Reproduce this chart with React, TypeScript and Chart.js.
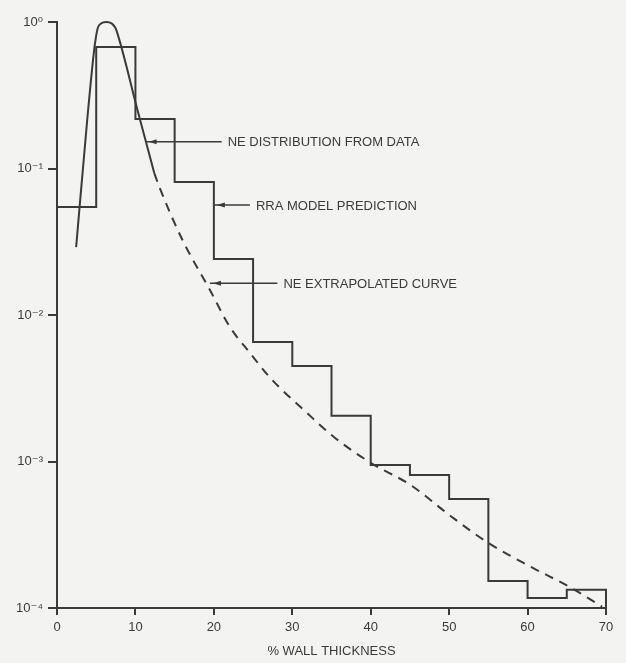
import React, { useEffect, useRef } from 'react';
import { Chart, registerables } from 'chart.js';

Chart.register(...registerables);

// ---- data ----
const binStarts = [0, 5, 10, 15, 20, 25, 30, 35, 40, 45, 50, 55, 60, 65];
const binEnd = 70;
const rraValues = [
  0.0546, 0.675, 0.218, 0.0809, 0.0241, 0.00654, 0.00449, 0.00205,
  0.000946, 0.000809, 0.000555, 0.000153, 0.000117, 0.000133,
];

const neDataX = [2.44, 3.85, 4.7, 4.95, 5.2, 5.6, 6.3, 7.0, 7.4, 7.6, 10.26, 12.4];
const neDataY = [0.0291, 0.214, 0.62, 0.78, 0.91, 0.975, 1.0, 0.975, 0.92, 0.87, 0.251, 0.093];

const neExtrapX = [12.4, 13.1, 16.0, 19.5, 22.05, 24.6, 27.2, 31.9, 35.3, 40, 45.1, 50.3, 55, 60.5, 65.6, 69.5];
const neExtrapY = [
  0.093, 0.0736, 0.0325, 0.0148, 0.00828, 0.00551, 0.00372, 0.00214, 0.00147,
  0.00098, 0.00069, 0.00042, 0.000278, 0.00019, 0.000137, 0.000102,
];

const xTickValues = [0, 10, 20, 30, 40, 50, 60, 70];
const yTickValues = [1e-4, 1e-3, 1e-2, 1e-1, 1];
const yTickLabels = ['10⁻⁴', '10⁻³', '10⁻²', '10⁻¹', '10⁰'];
const xTitle = '% WALL THICKNESS';

const annotationTexts = ['NE DISTRIBUTION FROM DATA', 'RRA MODEL PREDICTION', 'NE EXTRAPOLATED CURVE'];
const annotationTipX = [11.3, 20, 19.5];
const annotationTipY = [0.152, 0.0564, 0.0165];
const annotationLineEndX = [21.0, 24.6, 28.1];

// ---- styles ----
const INK = '#3a3a3a';
const BG = '#f3f3f1';
const FONT = '"Liberation Sans", "DejaVu Sans", sans-serif';

export default function App() {
  const ref = useRef<HTMLCanvasElement>(null);

  useEffect(() => {
    document.body.style.margin = '0';
    document.body.style.background = BG;
    const canvas = ref.current;
    if (!canvas) return;

    const stepData = binStarts.map((x, i) => ({ x, y: rraValues[i] }));
    stepData.push({ x: binEnd, y: rraValues[rraValues.length - 1] });
    stepData.push({ x: binEnd, y: yTickValues[0] });

    const solidData = neDataX.map((x, i) => ({ x, y: neDataY[i] }));
    const dashedData = neExtrapX.map((x, i) => ({ x, y: neExtrapY[i] }));

    const bgPlugin = {
      id: 'bg',
      beforeDraw(chart: any) {
        const ctx = chart.ctx;
        ctx.save();
        ctx.fillStyle = BG;
        ctx.fillRect(0, 0, chart.width, chart.height);
        ctx.restore();
      },
    };

    const annotationPlugin = {
      id: 'notes',
      afterDatasetsDraw(chart: any) {
        const ctx = chart.ctx;
        const xs = chart.scales.x;
        const ys = chart.scales.y;
        ctx.save();
        annotationTexts.forEach((text, i) => {
          const tx = xs.getPixelForValue(annotationTipX[i]);
          const ty = ys.getPixelForValue(annotationTipY[i]);
          const ex = xs.getPixelForValue(annotationLineEndX[i]);
          ctx.strokeStyle = INK;
          ctx.lineWidth = 1.5;
          ctx.beginPath();
          ctx.moveTo(tx, ty);
          ctx.lineTo(ex, ty);
          ctx.stroke();
          ctx.fillStyle = INK;
          ctx.beginPath();
          ctx.moveTo(tx + 3, ty);
          ctx.lineTo(tx + 11, ty - 2.5);
          ctx.lineTo(tx + 11, ty + 2.5);
          ctx.closePath();
          ctx.fill();
          ctx.font = `13px ${FONT}`;
          ctx.textBaseline = 'middle';
          ctx.textAlign = 'left';
          ctx.fillText(text, ex + 6, ty + 1);
        });
        ctx.restore();
      },
    };

    const chart = new Chart(canvas, {
      type: 'line',
      data: {
        datasets: [
          {
            label: 'RRA model prediction',
            data: stepData,
            stepped: 'before',
            borderColor: INK,
            borderWidth: 2,
            pointRadius: 0,
            fill: false,
            clip: false,
          },
          {
            label: 'NE distribution from data',
            data: solidData,
            cubicInterpolationMode: 'monotone',
            borderColor: INK,
            borderWidth: 2,
            pointRadius: 0,
            fill: false,
            clip: false,
          },
          {
            label: 'NE extrapolated curve',
            data: dashedData,
            cubicInterpolationMode: 'monotone',
            borderColor: INK,
            borderWidth: 2,
            borderDash: [9, 7],
            pointRadius: 0,
            fill: false,
            clip: false,
          },
        ],
      } as any,
      options: {
        responsive: false,
        animation: false,
        devicePixelRatio: 1,
        layout: { padding: { left: 0, top: 22, right: 20, bottom: 0 } },
        plugins: { legend: { display: false }, tooltip: { enabled: false } },
        scales: {
          x: {
            type: 'linear',
            min: 0,
            max: 70,
            afterBuildTicks: (s: any) => {
              s.ticks = xTickValues.map((v) => ({ value: v }));
            },
            ticks: { color: INK, font: { family: FONT, size: 13 }, padding: 5, maxRotation: 0 },
            grid: { drawOnChartArea: false, drawTicks: true, tickLength: 7, color: INK, lineWidth: 2 },
            border: { display: true, color: INK, width: 2 },
            title: {
              display: true,
              text: xTitle,
              color: INK,
              font: { family: FONT, size: 13 },
              padding: { top: 2, bottom: 4 },
            },
            afterFit: (s: any) => {
              s.height = 55;
            },
          },
          y: {
            type: 'logarithmic',
            min: 1e-4,
            max: 1,
            afterBuildTicks: (s: any) => {
              s.ticks = yTickValues.map((v) => ({ value: v }));
            },
            ticks: {
              color: INK,
              font: { family: FONT, size: 13 },
              padding: 5,
              callback: (v: any) => {
                const idx = yTickValues.findIndex((t) => Math.abs(Math.log10(t) - Math.log10(Number(v))) < 1e-6);
                return idx >= 0 ? yTickLabels[idx] : '';
              },
            },
            grid: { drawOnChartArea: false, drawTicks: true, tickLength: 9, color: INK, lineWidth: 2 },
            border: { display: true, color: INK, width: 2 },
            afterFit: (s: any) => {
              s.width = 57;
            },
          },
        },
      } as any,
      plugins: [bgPlugin, annotationPlugin],
    });

    return () => chart.destroy();
  }, []);

  return <canvas ref={ref} width={626} height={663} style={{ display: 'block' }} />;
}
